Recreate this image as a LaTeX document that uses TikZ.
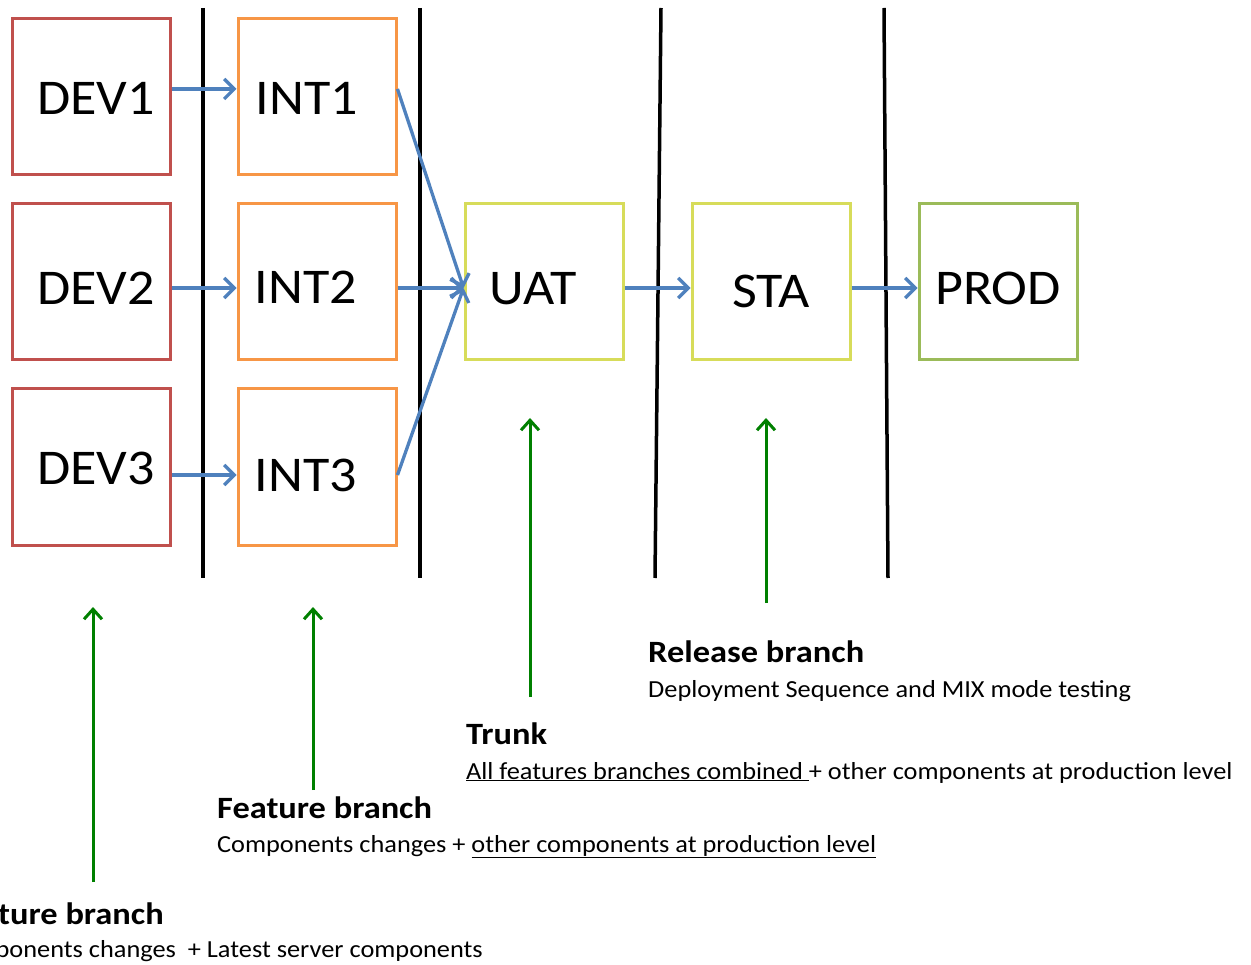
\documentclass[tikz,border=0pt]{standalone}
\usepackage{fontspec}
\setmainfont{Carlito}
\usetikzlibrary{arrows.meta}
\definecolor{devred}{RGB}{192,80,77}
\definecolor{intorange}{RGB}{247,150,70}
\definecolor{uatyellow}{RGB}{215,220,90}
\definecolor{prodgreen}{RGB}{155,187,89}
\definecolor{flowblue}{RGB}{79,129,189}
\definecolor{noteg}{RGB}{0,128,0}
\newcommand\boxtext[3]{\raisebox{-#2}[\height][\depth]{\hspace*{#1}\hspace*{#1}\scalebox{1.08}[1]{#3}}}
\newcommand\wide[2]{\scalebox{#1}[1]{#2}}
\tikzset{
  box/.style={draw, line width=3pt, minimum width=158pt, minimum height=156pt, inner sep=0pt,
    font=\fontsize{50}{56}\selectfont},
  flow/.style={draw=flowblue, line width=3.3pt, -{Straight Barb[length=10pt,width=20pt,line width=3.3pt]}},
  note/.style={draw=noteg, line width=3pt, -{Straight Barb[length=10pt,width=18pt,line width=3pt]}},
  sep/.style={line width=3.5pt, black},
  head/.style={anchor=base west, inner sep=0pt, font=\fontsize{31}{34}\bfseries\selectfont},
  sub/.style={anchor=base west, inner sep=0pt, font=\fontsize{24.5}{27}\selectfont},
}
\begin{document}
\begin{tikzpicture}[x=1pt,y=-1pt]
\useasboundingbox (0,0) rectangle (1251,965);
% separators
\coordinate (s1t) at (203,8); \coordinate (s1b) at (203,578);
\coordinate (s2t) at (420,8); \coordinate (s2b) at (420,578);
\coordinate (s3t) at (661,8); \coordinate (s3b) at (655,578);
\coordinate (s4t) at (884,8); \coordinate (s4b) at (888,578);
\draw[sep] (s1t) -- (s1b);
\draw[sep] (s2t) -- (s2b);
\draw[sep] (s3t) -- (s3b);
\draw[sep] (s4t) -- (s4b);
% boxes
\node[box, draw=devred] (dev1) at (91,97) {\boxtext{5pt}{1pt}{DEV1}};
\node[box, draw=devred] (dev2) at (91,282) {\boxtext{5pt}{6pt}{DEV2}};
\node[box, draw=devred] (dev3) at (91,467) {\boxtext{5pt}{1pt}{DEV3}};
\node[box, draw=intorange] (int1) at (317,97) {\boxtext{-10pt}{1pt}{INT1}};
\node[box, draw=intorange] (int2) at (317,282) {\boxtext{-11pt}{5pt}{INT2}};
\node[box, draw=intorange] (int3) at (317,467) {\boxtext{-11pt}{8pt}{INT3}};
\node[box, draw=uatyellow] (uat) at (544,282) {\boxtext{-11pt}{7pt}{UAT}};
\node[box, draw=uatyellow] (sta) at (771,282) {\boxtext{0pt}{9pt}{STA}};
\node[box, draw=prodgreen] (prod) at (998,282) {\boxtext{0pt}{6pt}{PROD}};
% flow arrows
\draw[flow] ([yshift=8pt]dev1.east) -- ([yshift=8pt]int1.west);
\draw[flow] ([yshift=-6pt]dev2.east) -- ([yshift=-6pt]int2.west);
\draw[flow] ([yshift=-8pt]dev3.east) -- ([yshift=-8pt]int3.west);
\draw[flow] ([yshift=8pt]int1.east) -- ([yshift=-6pt]uat.west);
\draw[flow] ([yshift=-6pt]int2.east) -- ([yshift=-6pt]uat.west);
\draw[flow] ([yshift=-8pt]int3.east) -- ([yshift=-6pt]uat.west);
\draw[flow] ([yshift=-6pt]uat.east) -- ([yshift=-6pt]sta.west);
\draw[flow] ([yshift=-6pt]sta.east) -- ([yshift=-6pt]prod.west);
% note arrows
\coordinate (g1b) at (93,882); \coordinate (g1t) at (93,607);
\coordinate (g2b) at (313,790); \coordinate (g2t) at (313,607);
\coordinate (g3b) at (530,697); \coordinate (g3t) at (530,418);
\coordinate (g4b) at (766,603); \coordinate (g4t) at (766,418);
\draw[note] (g1b) -- (g1t);
\draw[note] (g2b) -- (g2t);
\draw[note] (g3b) -- (g3t);
\draw[note] (g4b) -- (g4t);
% labels
\node[head] (h4) at (648,662) {\wide{1.11}{Release branch}};
\node[sub] (t4) at (648,697) {\wide{1.075}{Deployment Sequence and MIX mode testing}};
\node[head] (h3) at (466,744) {\wide{1.11}{Trunk}};
\node[sub] (t3) at (466,779) {\wide{1.075}{\underline{All features branches combined }+ other components at production level}};
\node[head] (h2) at (217,818) {\wide{1.11}{Feature branch}};
\node[sub] (t2) at (217,852) {\wide{1.075}{Components changes + \underline{other components at production level}}};
\node[head, anchor=base east] (h1) at (164,924) {\wide{1.11}{Feature branch}};
\node[sub, anchor=base east] (t1) at (483,957) {\wide{1.075}{Components changes\ \ + Latest server components}};
\end{tikzpicture}
\end{document}
